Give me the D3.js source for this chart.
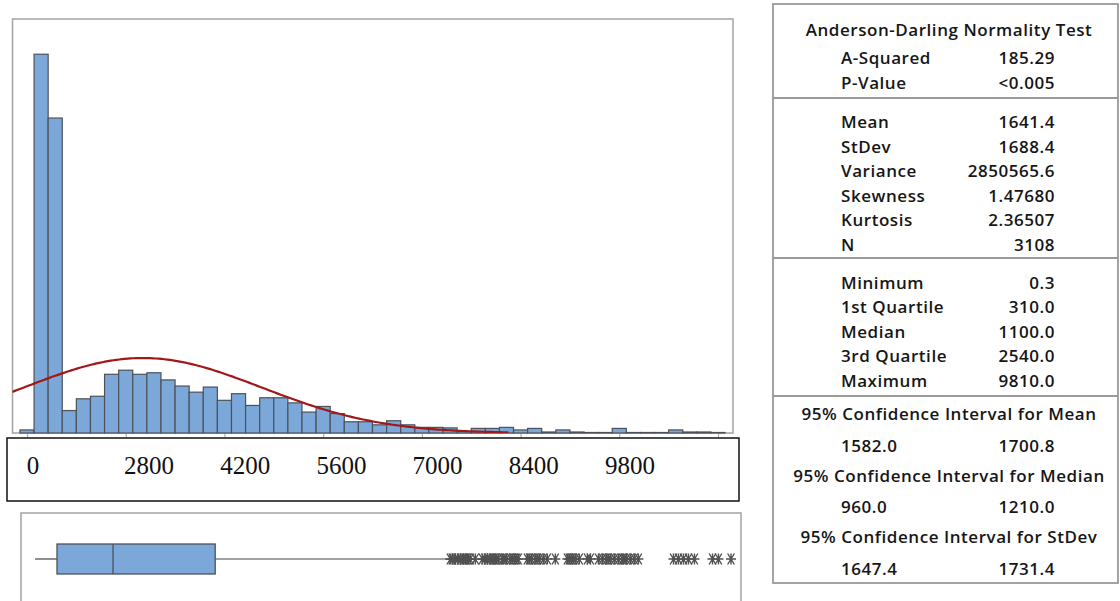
<!DOCTYPE html>
<html>
<head>
<meta charset="utf-8">
<script src="https://cdn.jsdelivr.net/npm/d3@7"></script>
<style>
  body { margin: 0; background: #fff; }
  svg { display: block; }
</style>
</head>
<body>
<script>
// Canvas
var w = 1120,
    h = 601;

// Histogram data (bin midpoints, width 200)
var binMids = [0, 200, 400, 600, 800, 1000, 1200, 1400, 1600, 1800,
               2000, 2200, 2400, 2600, 2800, 3000, 3200, 3400, 3600, 3800,
               4000, 4200, 4400, 4600, 4800, 5000, 5200, 5400, 5600, 5800,
               6000, 6200, 6400, 6600, 6800, 7000, 7200, 7400, 7600, 7800,
               8000, 8200, 8400, 8600, 8800, 9000, 9200, 9400, 9600, 9800];
var binCounts = [6, 742, 617, 44, 67, 72, 115, 123, 115, 118,
                 104, 92, 80, 90, 64, 77, 54, 69, 69, 59,
                 41, 52, 38, 22, 22, 16, 24, 16, 11, 11,
                 10, 3, 9, 9, 11, 6, 9, 2, 6, 2,
                 1, 1, 9, 1, 1, 1, 6, 2, 2, 1];
var binWidth = 200;

var tickValues = [0, 1400, 2800, 4200, 5600, 7000, 8400, 9800];
var tickLabels = ["0", "2800", "4200", "5600", "7000", "8400", "9800"];
var tickLabelValues = [0, 2800, 4200, 5600, 7000, 8400, 9800];

// Summary stats
var mean = 1641.4, stdev = 1688.4, n = 3108;
var boxStats = { min: 0.3, q1: 310, median: 1100, q3: 2540, whiskerHigh: 5830 };
var outliers = [5853, 5880, 5924, 5960, 5994, 6037, 6060, 6079, 6110, 6135, 6206,
                6305, 6340, 6375, 6417, 6450, 6474, 6500, 6530, 6587, 6610, 6643, 6700, 6730, 6756, 6790, 6812,
                6939, 6970, 6996, 7052, 7080, 7108, 7165, 7221,
                7334,
                7503, 7530, 7560, 7590, 7616, 7672,
                7786,
                7828, 7941, 7997, 8053, 8080, 8110, 8166, 8223, 8279, 8300, 8336, 8392, 8448, 8505,
                8999, 9069, 9140, 9210, 9295,
                9549, 9633, 9810];

// Table text
var adTitle = "Anderson-Darling Normality Test";
var adLabels = ["A-Squared", "P-Value"];
var adValues = ["185.29", "<0.005"];
var descLabels = ["Mean", "StDev", "Variance", "Skewness", "Kurtosis", "N"];
var descValues = ["1641.4", "1688.4", "2850565.6", "1.47680", "2.36507", "3108"];
var quantLabels = ["Minimum", "1st Quartile", "Median", "3rd Quartile", "Maximum"];
var quantValues = ["0.3", "310.0", "1100.0", "2540.0", "9810.0"];
var ciTitles = ["95% Confidence Interval for Mean",
                "95% Confidence Interval for Median",
                "95% Confidence Interval for StDev"];
var ciLow = ["1582.0", "960.0", "1647.4"];
var ciHigh = ["1700.8", "1210.0", "1731.4"];

var barFill = "#7ba7d9",
    barStroke = "#4d5259",
    panelStroke = "#a3a3a3",
    fitColor = "#a01818";

var svg = d3.select("body")
            .append("svg")
            .attr("width", w)
            .attr("height", h);

svg.append("rect").attr("width", w).attr("height", h).attr("fill", "#fff");

// ---- Histogram panel ----
var panel = { left: 12.5, top: 19, right: 733, bottom: 433 };

var xScale = d3.scaleLinear()
               .domain([0, 9800])
               .range([27, 718]);

var yScale = d3.scaleLinear()
               .domain([0, 811])
               .range([panel.bottom, panel.top]);

svg.append("clipPath").attr("id", "histClip")
   .append("rect")
   .attr("x", panel.left).attr("y", panel.top)
   .attr("width", panel.right - panel.left)
   .attr("height", panel.bottom - panel.top);

svg.append("rect")
   .attr("x", panel.left).attr("y", panel.top)
   .attr("width", panel.right - panel.left)
   .attr("height", panel.bottom - panel.top)
   .attr("fill", "none")
   .attr("stroke", panelStroke)
   .attr("stroke-width", 1.5);

// tick marks below the plot
var xAxis = d3.axisBottom(xScale)
              .tickValues(tickValues)
              .tickSize(5)
              .tickFormat("");

var axisG = svg.append("g")
   .attr("class", "x axis")
   .attr("transform", "translate(0," + panel.bottom + ")")
   .call(xAxis);
axisG.select(".domain").remove();
axisG.selectAll(".tick line").attr("stroke", "#b0b0b0").attr("stroke-width", 1.2);

// bars
svg.append("g")
   .selectAll("rect")
   .data(binMids)
   .enter()
   .append("rect")
   .attr("x", function(d) { return xScale(d - binWidth / 2); })
   .attr("y", function(d, i) { return yScale(binCounts[i]); })
   .attr("width", function(d) { return xScale(d + binWidth / 2) - xScale(d - binWidth / 2); })
   .attr("height", function(d, i) { return yScale(0) - yScale(binCounts[i]); })
   .attr("fill", barFill)
   .attr("stroke", barStroke)
   .attr("stroke-width", 1.2);

// fitted normal curve
var fitStart = -212, fitEnd = 6860;
var fitPts = d3.range(fitStart, fitEnd + 1, 40).map(function(v) {
  var z = (v - mean) / stdev;
  var dens = Math.exp(-0.5 * z * z) / (stdev * Math.sqrt(2 * Math.PI));
  return [v, dens * n * binWidth];
});

svg.append("path")
   .datum(fitPts)
   .attr("clip-path", "url(#histClip)")
   .attr("fill", "none")
   .attr("stroke", fitColor)
   .attr("stroke-width", 2.2)
   .attr("d", d3.line()
     .x(function(d) { return xScale(d[0]); })
     .y(function(d) { return yScale(d[1]); }));

// ---- Tick label box ----
svg.append("rect")
   .attr("x", 7).attr("y", 438)
   .attr("width", 732).attr("height", 63)
   .attr("fill", "#fff")
   .attr("stroke", "#111")
   .attr("stroke-width", 1.5);

var labelScale = d3.scaleLinear()
                   .domain([0, 2800, 9800])
                   .range([33, 149, 630]);

svg.append("g")
   .selectAll("text")
   .data(tickLabels)
   .enter()
   .append("text")
   .attr("x", function(d, i) { return labelScale(tickLabelValues[i]); })
   .attr("y", 474)
   .attr("text-anchor", "middle")
   .attr("font-family", "'Liberation Serif', 'Times New Roman', serif")
   .attr("font-size", 25)
   .attr("fill", "#111")
   .text(function(d) { return d; });

// ---- Box plot panel ----
svg.append("rect")
   .attr("x", 21).attr("y", 513)
   .attr("width", 720).attr("height", 110)
   .attr("fill", "none")
   .attr("stroke", panelStroke)
   .attr("stroke-width", 1.5);

var bScale = d3.scaleLinear()
               .domain([0, 9810])
               .range([35, 731]);

var boxTop = 544, boxBottom = 574, boxMid = 559;

svg.append("line")
   .attr("x1", bScale(boxStats.min)).attr("x2", bScale(boxStats.q1))
   .attr("y1", boxMid).attr("y2", boxMid)
   .attr("stroke", "#444").attr("stroke-width", 1.2);

svg.append("line")
   .attr("x1", bScale(boxStats.q3)).attr("x2", bScale(boxStats.whiskerHigh))
   .attr("y1", boxMid).attr("y2", boxMid)
   .attr("stroke", "#444").attr("stroke-width", 1.2);

svg.append("rect")
   .attr("x", bScale(boxStats.q1)).attr("y", boxTop)
   .attr("width", bScale(boxStats.q3) - bScale(boxStats.q1))
   .attr("height", boxBottom - boxTop)
   .attr("fill", barFill)
   .attr("stroke", barStroke)
   .attr("stroke-width", 1.3);

svg.append("line")
   .attr("x1", bScale(boxStats.median)).attr("x2", bScale(boxStats.median))
   .attr("y1", boxTop).attr("y2", boxBottom)
   .attr("stroke", barStroke).attr("stroke-width", 1.3);

// outliers drawn as asterisks
var star = "M-5,0L5,0M-3.4,-5.5L3.4,5.5M3.4,-5.5L-3.4,5.5M0,-5.5L0,5.5";
svg.append("g")
   .selectAll("path")
   .data(outliers)
   .enter()
   .append("path")
   .attr("transform", function(d) { return "translate(" + bScale(d) + "," + boxMid + ")"; })
   .attr("d", star)
   .attr("fill", "none")
   .attr("stroke", "#505050")
   .attr("stroke-width", 1.4);

// ---- Statistics table ----
var tLeft = 773, tRight = 1118, tTop = 4, tBottom = 583;
var labelX = 841, valueX = 1055, midX = 949;
var font = "'Open Sans', 'Noto Sans', sans-serif";

svg.append("rect")
   .attr("x", tLeft).attr("y", tTop)
   .attr("width", tRight - tLeft).attr("height", tBottom - tTop)
   .attr("fill", "none")
   .attr("stroke", "#9a9a9a")
   .attr("stroke-width", 1.8);

[98, 258, 396].forEach(function(y) {
  svg.append("line")
     .attr("x1", tLeft).attr("x2", tRight)
     .attr("y1", y).attr("y2", y)
     .attr("stroke", "#9a9a9a")
     .attr("stroke-width", 1.8);
});

var table = svg.append("g")
   .attr("font-family", font)
   .attr("font-size", 17)
   .attr("font-weight", 600)
   .attr("letter-spacing", 0.55)
   .attr("fill", "#161616");

function addText(x, y, s, anchor) {
  table.append("text")
       .attr("x", x).attr("y", y)
       .attr("text-anchor", anchor)
       .text(s);
}

function addRows(labels, values, y0, step) {
  labels.forEach(function(l, i) {
    addText(labelX, y0 + i * step, l, "start");
    addText(valueX, y0 + i * step, values[i], "end");
  });
}

addText(midX, 36, adTitle, "middle");
addRows(adLabels, adValues, 64, 25);
addRows(descLabels, descValues, 128, 24.5);
addRows(quantLabels, quantValues, 288.5, 24.6);

ciTitles.forEach(function(t, i) {
  var y = 420 + i * 61.5;
  addText(midX, y, t, "middle");
  addText(labelX, y + 31.5, ciLow[i], "start");
  addText(valueX, y + 31.5, ciHigh[i], "end");
});
</script>
</body>
</html>
